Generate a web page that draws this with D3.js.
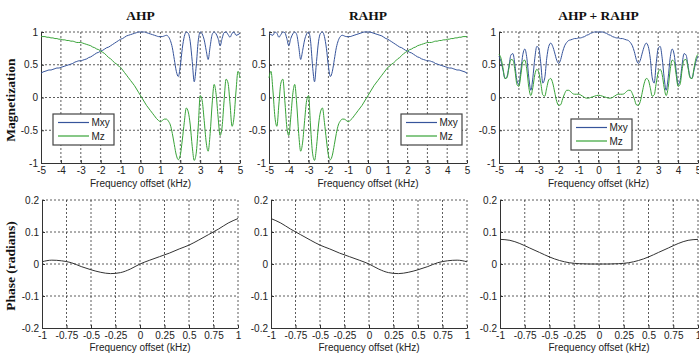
<!DOCTYPE html>
<html>
<head>
<meta charset="utf-8">
<script src="https://cdn.jsdelivr.net/npm/d3@7/dist/d3.min.js"></script>
<style>
  html, body { margin: 0; padding: 0; background: #fff; }
  svg { display: block; }
</style>
</head>
<body>
<svg id="chart" width="699" height="356"></svg>
<script>
// ---------------- DATA ----------------
const panelTitles = ["AHP", "RAHP", "AHP + RAHP"];
const seriesNames = ["Mxy", "Mz"];

const freqKHz = [
  -5.0,-4.9,-4.8,-4.7,-4.6,-4.5,-4.4,-4.3,-4.2,-4.1,
  -4.0,-3.9,-3.8,-3.7,-3.6,-3.5,-3.4,-3.3,-3.2,-3.1,
  -3.0,-2.9,-2.8,-2.7,-2.6,-2.5,-2.4,-2.3,-2.2,-2.1,
  -2.0,-1.9,-1.8,-1.7,-1.6,-1.5,-1.4,-1.3,-1.2,-1.1,
  -1.0,-0.9,-0.8,-0.7,-0.6,-0.5,-0.4,-0.3,-0.2,-0.1,
   0.0,
   0.1, 0.2, 0.3, 0.4, 0.5, 0.6, 0.7, 0.8, 0.9,
   1.0, 1.1, 1.2, 1.3, 1.4, 1.5, 1.6, 1.7, 1.8, 1.9,
   2.0, 2.1, 2.2, 2.3, 2.4, 2.5, 2.6, 2.7, 2.8, 2.9,
   3.0, 3.1, 3.2, 3.3, 3.4, 3.5, 3.6, 3.7, 3.8, 3.9,
   4.0, 4.1, 4.2, 4.3, 4.4, 4.5, 4.6, 4.7, 4.8, 4.9,
   5.0
];

const ahpMxy = [
  0.37,0.39,0.40,0.41,0.42,0.42,0.43,0.44,0.45,0.45,
  0.46,0.47,0.48,0.49,0.50,0.51,0.52,0.54,0.55,0.56,
  0.56,0.57,0.58,0.59,0.61,0.62,0.64,0.66,0.68,0.69,
  0.71,0.72,0.74,0.76,0.77,0.79,0.81,0.83,0.85,0.87,
  0.89,0.90,0.92,0.94,0.95,0.96,0.97,0.98,0.99,1.00,
  1.00,
  1.00,1.00,0.99,0.98,0.97,0.96,0.95,0.94,0.93,
  0.93,0.93,0.94,0.95,0.93,0.87,0.76,0.58,0.40,0.32,
  0.48,0.75,0.93,1.00,0.98,0.85,0.55,0.24,0.48,0.86,
  1.00,0.97,0.88,0.72,0.58,0.78,0.96,1.00,0.97,0.90,
  0.79,0.90,0.99,1.00,0.96,0.92,0.98,1.00,0.95,0.96,
  0.98
];
const ahpMz = [
  0.93,0.93,0.93,0.92,0.92,0.91,0.91,0.90,0.90,0.89,
  0.89,0.88,0.88,0.87,0.87,0.86,0.86,0.85,0.84,0.84,
  0.84,0.83,0.82,0.81,0.80,0.79,0.77,0.76,0.74,0.73,
  0.71,0.69,0.67,0.64,0.61,0.59,0.56,0.53,0.51,0.48,
  0.46,0.42,0.38,0.34,0.30,0.26,0.22,0.18,0.13,0.08,
  0.03,
  -0.02,-0.07,-0.12,-0.16,-0.20,-0.24,-0.28,-0.32,-0.35,
  -0.37,-0.35,-0.33,-0.33,-0.36,-0.42,-0.55,-0.72,-0.88,-0.95,
  -0.88,-0.65,-0.38,-0.16,-0.22,-0.42,-0.75,-0.96,-0.85,-0.45,
  0.03,-0.05,-0.35,-0.68,-0.82,-0.55,-0.10,0.20,0.05,-0.30,
  -0.58,-0.45,-0.05,0.28,0.22,-0.10,-0.44,-0.30,0.10,0.40,
  0.30
];

const rahpMxy = [
  0.98,
  0.96,0.95,1.00,0.98,0.92,0.96,1.00,0.99,0.90,0.79,
  0.90,0.97,1.00,0.96,0.78,0.58,0.72,0.88,0.97,1.00,
  0.86,0.48,0.24,0.55,0.85,0.98,1.00,0.93,0.75,0.48,
  0.32,0.40,0.58,0.76,0.87,0.93,0.95,0.94,0.93,0.93,
  0.93,0.94,0.95,0.96,0.97,0.98,0.99,1.00,1.00,
  1.00,
  1.00,0.99,0.98,0.97,0.96,0.95,0.94,0.92,0.90,0.89,
  0.87,0.85,0.83,0.81,0.79,0.77,0.76,0.74,0.72,0.71,
  0.69,0.68,0.66,0.64,0.62,0.61,0.59,0.58,0.57,0.56,
  0.56,0.55,0.54,0.52,0.51,0.50,0.49,0.48,0.47,0.46,
  0.45,0.45,0.44,0.43,0.42,0.42,0.41,0.40,0.39,0.37
];
const rahpMz = [
  0.30,
  0.40,0.10,-0.30,-0.44,-0.10,0.22,0.28,-0.05,-0.45,-0.58,
  -0.30,0.05,0.20,-0.10,-0.55,-0.82,-0.68,-0.35,-0.05,0.03,
  -0.45,-0.85,-0.96,-0.75,-0.42,-0.22,-0.16,-0.38,-0.65,-0.88,
  -0.95,-0.88,-0.72,-0.55,-0.42,-0.36,-0.33,-0.33,-0.35,-0.37,
  -0.35,-0.32,-0.28,-0.24,-0.20,-0.16,-0.12,-0.07,-0.02,
  0.03,
  0.08,0.13,0.18,0.22,0.26,0.30,0.34,0.38,0.42,0.46,
  0.48,0.51,0.53,0.56,0.59,0.61,0.64,0.67,0.69,0.71,
  0.73,0.74,0.76,0.77,0.79,0.80,0.81,0.82,0.83,0.84,
  0.84,0.84,0.85,0.86,0.86,0.87,0.87,0.88,0.88,0.89,
  0.89,0.90,0.90,0.91,0.91,0.92,0.92,0.93,0.93,0.93
];

const sumMxy = [
  0.63,0.55,0.42,0.29,0.32,0.48,0.65,0.67,0.50,0.26,
  0.20,0.42,0.66,0.74,0.60,0.30,0.11,0.30,0.60,0.78,
  0.75,0.52,0.22,0.30,0.60,0.78,0.83,0.78,0.68,0.57,
  0.52,0.58,0.70,0.79,0.84,0.87,0.88,0.89,0.90,0.90,
  0.91,0.91,0.92,0.93,0.95,0.96,0.98,0.99,1.00,1.00,
  1.00,
  1.00,1.00,0.99,0.98,0.96,0.95,0.93,0.92,0.91,
  0.91,0.90,0.90,0.89,0.88,0.87,0.84,0.79,0.70,0.58,
  0.52,0.57,0.68,0.78,0.83,0.78,0.60,0.30,0.22,0.52,
  0.75,0.78,0.60,0.30,0.11,0.30,0.60,0.74,0.66,0.42,
  0.20,0.26,0.50,0.67,0.65,0.48,0.32,0.29,0.42,0.55,
  0.63
];
const sumMz = [
  0.66,0.60,0.45,0.29,0.30,0.45,0.58,0.57,0.42,0.20,
  0.17,0.35,0.55,0.57,0.42,0.15,0.03,0.15,0.35,0.43,
  0.38,0.22,0.04,0.02,0.15,0.27,0.29,0.22,0.08,-0.06,
  -0.12,-0.11,-0.02,0.06,0.11,0.11,0.09,0.06,0.05,0.05,
  0.05,0.04,0.02,0.00,-0.01,-0.01,0.00,0.01,0.02,0.03,
  0.035,
  0.03,0.02,0.01,0.00,-0.01,-0.01,0.00,0.02,0.04,
  0.05,0.05,0.05,0.06,0.09,0.11,0.11,0.06,-0.02,-0.11,
  -0.12,-0.06,0.08,0.22,0.29,0.27,0.15,0.02,0.04,0.22,
  0.38,0.43,0.35,0.15,0.03,0.15,0.42,0.57,0.55,0.35,
  0.17,0.20,0.42,0.57,0.58,0.45,0.30,0.29,0.45,0.60,
  0.66
];

const phaseFreqKHz = [-1.0,-0.9,-0.8,-0.7,-0.6,-0.5,-0.4,-0.3,-0.2,-0.1,0.0,0.1,0.2,0.3,0.4,0.5,0.6,0.7,0.8,0.9,1.0];
const ahpPhase  = [0.007,0.012,0.010,0.004,-0.008,-0.018,-0.026,-0.030,-0.027,-0.016,0.000,0.012,0.023,0.034,0.047,0.059,0.075,0.092,0.109,0.128,0.142];
const rahpPhase = [0.142,0.128,0.109,0.092,0.075,0.059,0.047,0.034,0.023,0.012,0.000,-0.016,-0.027,-0.030,-0.026,-0.018,-0.008,0.004,0.010,0.012,0.007];
const sumPhase  = [0.077,0.074,0.064,0.050,0.036,0.022,0.011,0.004,0.001,0.000,0.000,0.000,0.001,0.004,0.011,0.022,0.036,0.050,0.064,0.074,0.077];

const magTicksX = [-5,-4,-3,-2,-1,0,1,2,3,4,5];
const magTicksY = [-1,-0.5,0,0.5,1];
const phaseTicksX = [-1,-0.75,-0.5,-0.25,0,0.25,0.5,0.75,1];
const phaseTicksY = [-0.2,-0.1,0,0.1,0.2];

const xAxisTitle = "Frequency offset (kHz)";
const magLabel = "Magnetization";
const phaseLabel = "Phase (radians)";

// ---------------- STYLE / LAYOUT ----------------
const COLORS = { Mxy: "#36549b", Mz: "#38a338" };
const tickFont = "'Liberation Sans', Arial, sans-serif";
const titleFont = "'Liberation Serif', 'Times New Roman', serif";

const topRows = { y0: 32, y1: 163, xs: [[41,240],[269,467],[499,698]] };
const botRows = { y0: 200, y1: 328, xs: [[42,238],[271,467],[500,698]] };
const legendPos = [[53,114],[401,114],[571,119]];

const magSeries = [[ahpMxy, ahpMz],[rahpMxy, rahpMz],[sumMxy, sumMz]];
const phaseSeries = [ahpPhase, rahpPhase, sumPhase];

const svg = d3.select("#chart");
svg.append("rect").attr("width", 699).attr("height", 356).attr("fill", "#fff");

function drawFrame(g, x, y, ticksX, ticksY, x0, x1, y0, y1) {
  // dotted grid
  const grid = g.append("g").attr("stroke", "#333").attr("stroke-width", 0.8)
    .attr("stroke-dasharray", "2,2").attr("fill", "none");
  ticksX.forEach(t => {
    if (x(t) > x0 + 0.5) grid.append("line").attr("x1", x(t)).attr("x2", x(t)).attr("y1", y0).attr("y2", y1);
  });
  ticksY.forEach(t => {
    if (y(t) < y1 - 0.5) grid.append("line").attr("x1", x0).attr("x2", x1).attr("y1", y(t)).attr("y2", y(t));
  });
  const fmt = d => String(d);
  const ax = g.append("g").attr("transform", `translate(0,${y1})`)
    .call(d3.axisBottom(x).tickValues(ticksX).tickFormat(fmt).tickSizeInner(-3).tickSizeOuter(0).tickPadding(4));
  const ay = g.append("g").attr("transform", `translate(${x0},0)`)
    .call(d3.axisLeft(y).tickValues(ticksY).tickFormat(fmt).tickSizeInner(-3).tickSizeOuter(0).tickPadding(3));
  [ax, ay].forEach(a => {
    a.selectAll("path.domain").attr("stroke", "#333");
    a.selectAll("line").attr("stroke", "#333");
    a.selectAll("text").attr("font-family", tickFont).attr("font-size", 10).attr("fill", "#222");
  });
}

// ---------------- TOP ROW ----------------
panelTitles.forEach((title, i) => {
  const [x0, x1] = topRows.xs[i];
  const x = d3.scaleLinear().domain([-5, 5]).range([x0, x1]);
  const y = d3.scaleLinear().domain([-1, 1]).range([topRows.y1, topRows.y0]);
  const g = svg.append("g");
  drawFrame(g, x, y, magTicksX, magTicksY, x0, x1, topRows.y0, topRows.y1);

  const [mxy, mz] = magSeries[i];
  [[mxy, "Mxy"], [mz, "Mz"]].forEach(([vals, name]) => {
    const line = d3.line().x((d, k) => x(freqKHz[k])).y(d => y(d)).curve(d3.curveMonotoneX);
    g.append("path").datum(vals).attr("d", line).attr("fill", "none")
      .attr("stroke", COLORS[name]).attr("stroke-width", 1);
  });
  // redraw the Mxy on top for AHP+RAHP? keep order as in reference (Mz on top)

  g.append("text").attr("x", (x0 + x1) / 2).attr("y", 20).attr("text-anchor", "middle")
    .attr("font-family", titleFont).attr("font-weight", "bold").attr("font-size", 13.5).attr("fill", "#111")
    .text(title);
  g.append("text").attr("x", (x0 + x1) / 2).attr("y", 187).attr("text-anchor", "middle")
    .attr("font-family", tickFont).attr("font-size", 10).attr("fill", "#222").text(xAxisTitle);

  // legend
  const [lx, ly] = legendPos[i];
  const lg = g.append("g").attr("transform", `translate(${lx},${ly})`);
  lg.append("rect").attr("x", 0).attr("y", 0).attr("width", 61).attr("height", 31)
    .attr("fill", "#fff").attr("stroke", "#444").attr("stroke-width", 1.2);
  seriesNames.forEach((name, k) => {
    const yy = 8.5 + k * 13.5;
    lg.append("line").attr("x1", 5).attr("x2", 36).attr("y1", yy).attr("y2", yy)
      .attr("stroke", COLORS[name]).attr("stroke-width", 1.2);
    lg.append("text").attr("x", 38.5).attr("y", yy + 3.6)
      .attr("font-family", tickFont).attr("font-size", 10).attr("fill", "#222").text(name);
  });
});

// ---------------- BOTTOM ROW ----------------
phaseSeries.forEach((vals, i) => {
  const [x0, x1] = botRows.xs[i];
  const x = d3.scaleLinear().domain([-1, 1]).range([x0, x1]);
  const y = d3.scaleLinear().domain([-0.2, 0.2]).range([botRows.y1, botRows.y0]);
  const g = svg.append("g");
  drawFrame(g, x, y, phaseTicksX, phaseTicksY, x0, x1, botRows.y0, botRows.y1);
  const line = d3.line().x((d, k) => x(phaseFreqKHz[k])).y(d => y(d)).curve(d3.curveMonotoneX);
  g.append("path").datum(vals).attr("d", line).attr("fill", "none")
    .attr("stroke", "#333").attr("stroke-width", 1);
  g.append("text").attr("x", (x0 + x1) / 2).attr("y", 351).attr("text-anchor", "middle")
    .attr("font-family", tickFont).attr("font-size", 10).attr("fill", "#222").text(xAxisTitle);
});

// ---------------- Y LABELS ----------------
svg.append("text").attr("transform", "translate(15,100) rotate(-90)").attr("text-anchor", "middle")
  .attr("font-family", titleFont).attr("font-weight", "bold").attr("font-size", 13.5).attr("fill", "#111")
  .text(magLabel);
svg.append("text").attr("transform", "translate(15,266) rotate(-90)").attr("text-anchor", "middle")
  .attr("font-family", titleFont).attr("font-weight", "bold").attr("font-size", 13.5).attr("fill", "#111")
  .text(phaseLabel);
</script>
</body>
</html>
